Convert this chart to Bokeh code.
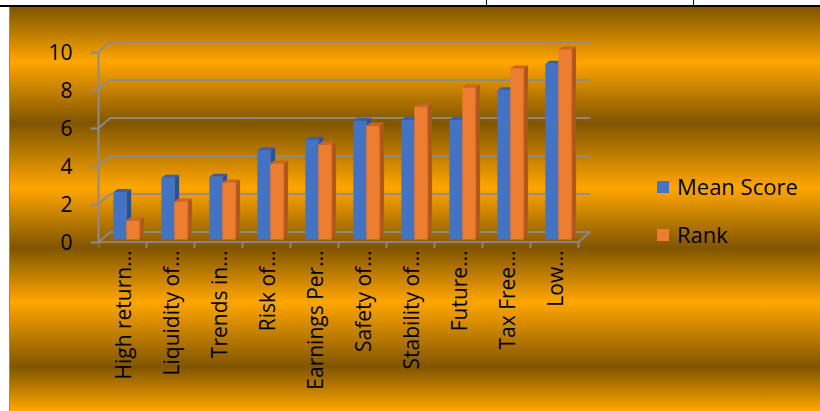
import math
from bokeh.plotting import figure
from bokeh.models import Range1d, FixedTicker, Legend, LegendItem
from bokeh.embed import file_html
from bokeh.resources import INLINE

# ---- data ----
categories = ["High return…", "Liquidity of…", "Trends in…", "Risk of…",
              "Earnings Per…", "Safety of…", "Stability of…", "Future…",
              "Tax Free…", "Low…"]
mean_score = [2.5, 3.25, 3.3, 4.7, 5.25, 6.25, 6.3, 6.3, 7.85, 9.25]
rank = [1, 2, 3, 4, 5, 6, 7, 8, 9, 10]
y_ticks = [0, 2, 4, 6, 8, 10]
series_names = ["Mean Score", "Rank"]

# ---- geometry / style ----
W, H = 820, 411
LEFT, BOTTOM = 98, 161
ZERO_PX = 241.5
PX_CAT, PX_UNIT = 48.0, 19.0
FONT = "Open Sans"
AXIS_COL = "#8c8c8c"
n = len(categories)

x0 = -0.5
x_range = Range1d(x0, x0 + (W - LEFT) / PX_CAT)
frame_bottom_px = H - BOTTOM
y0 = -(frame_bottom_px - ZERO_PX) / PX_UNIT
y_range = Range1d(y0, y0 + frame_bottom_px / PX_UNIT)

bg_layers = [
    "linear-gradient(#000,#000) 486px 0px / 1px 6px no-repeat",
    "linear-gradient(#000,#000) 693px 0px / 1px 6px no-repeat",
    "linear-gradient(#000,#000) 0px 5px / 100% 2px no-repeat",
    "linear-gradient(#8c8c8c,#8c8c8c) 9px 7px / 1px 100% no-repeat",
    "linear-gradient(#fff,#fff) 0px 0px / 100% 7px no-repeat",
    "linear-gradient(#fff,#fff) 0px 0px / 9px 100% no-repeat",
    "linear-gradient(180deg, #805500 7px, #ffa600 62px, #805500 123px, "
    "#ffa600 188px, #805500 248px, #ffa600 302px, #805500 367px, #ffa600 411px)",
]

p = figure(width=W, height=H, x_range=x_range, y_range=y_range,
           output_backend="svg", toolbar_location=None,
           min_border_left=LEFT, min_border_right=0, min_border_top=0,
           min_border_bottom=BOTTOM)
p.styles = {"background": ", ".join(bg_layers)}
p.background_fill_color = None
p.border_fill_color = None
p.outline_line_color = None
p.xgrid.visible = False
p.ygrid.visible = False

# ---- 3D walls (back wall gridlines + floor) ----
ddx = 11.7 / PX_CAT
ddy = 10.0 / PX_UNIT
x_end = x0 + n
wall_xs = ([[x0, x0 + ddx, x_end + ddx] for t in y_ticks]
           + [[x_end, x_end + ddx], [x0, x_end]])
wall_ys = ([[t, t + ddy, t + ddy] for t in y_ticks]
           + [[0, ddy], [0, 0]])
p.multi_line(wall_xs, wall_ys, line_color=AXIS_COL, line_width=2, line_alpha=0.9)

# category boundary tick marks on the front floor edge
bounds_x = [x0 + k for k in range(n + 1)]
tick_len = 6.0 / PX_UNIT
p.segment(x0=bounds_x, y0=0, x1=bounds_x, y1=-tick_len,
          line_color=AXIS_COL, line_width=2, line_alpha=0.9)

# ---- 3D bars ----
bw = 0.28
dx = 4.3 / PX_CAT
dy = 3.0 / PX_UNIT
lift = 2.5 / PX_UNIT


def bar3d(offset, values, front, side, top):
    lefts = [i + offset - bw / 2 for i in range(n)]
    rights = [i + offset + bw / 2 for i in range(n)]
    tops = [v + lift for v in values]
    r = p.quad(left=lefts, right=rights, bottom=lift, top=tops,
               fill_color=front, line_color=None)
    p.patches([[rr, rr + dx, rr + dx, rr] for rr in rights],
              [[lift, lift + dy, t + dy, t] for t in tops],
              fill_color=side, line_color=None)
    p.patches([[l, l + dx, rr + dx, rr] for l, rr in zip(lefts, rights)],
              [[t, t + dy, t + dy, t] for t in tops],
              fill_color=top, line_color=None)
    return r


r_mean = bar3d(-0.05, mean_score, "#4472c4", "#2e5090", "#3560ad")
r_rank = bar3d(0.22, rank, "#ed7d31", "#b0561f", "#cc6424")

# ---- axes ----
xa = p.xaxis[0]
xa.ticker = FixedTicker(ticks=list(range(n)), minor_ticks=[])
xa.major_label_overrides = {i: c for i, c in enumerate(categories)}
xa.major_label_orientation = math.pi / 2
xa.major_label_text_font = FONT
xa.major_label_text_font_size = "21px"
xa.major_label_text_color = "black"
xa.major_label_standoff = 0
xa.major_tick_out = 0
xa.major_tick_in = 0
xa.minor_tick_out = 0
xa.minor_tick_in = 0
xa.axis_line_color = None
xa.major_tick_line_color = None
xa.minor_tick_line_color = None

ya = p.yaxis[0]
ya.ticker = FixedTicker(ticks=y_ticks, minor_ticks=[])
ya.major_label_text_font = FONT
ya.major_label_text_font_size = "21px"
ya.major_label_text_color = "black"
ya.major_tick_out = 8
ya.major_tick_in = 0
ya.major_tick_line_color = AXIS_COL
ya.major_tick_line_width = 2
ya.major_label_standoff = 18
ya.axis_line_color = AXIS_COL
ya.axis_line_width = 2
ya.bounds = (0, 10)

# ---- legend ----
legend = Legend(items=[LegendItem(label=series_names[0], renderers=[r_mean]),
                       LegendItem(label=series_names[1], renderers=[r_rank])],
                location=(557, 1), orientation="vertical",
                glyph_width=15, glyph_height=15, label_standoff=7,
                label_text_font=FONT, label_text_font_size="22px",
                label_text_color="black", spacing=18, padding=0, margin=0,
                border_line_color=None, background_fill_alpha=0)
p.add_layout(legend)

open("out.html", "w").write(file_html(p, INLINE))
